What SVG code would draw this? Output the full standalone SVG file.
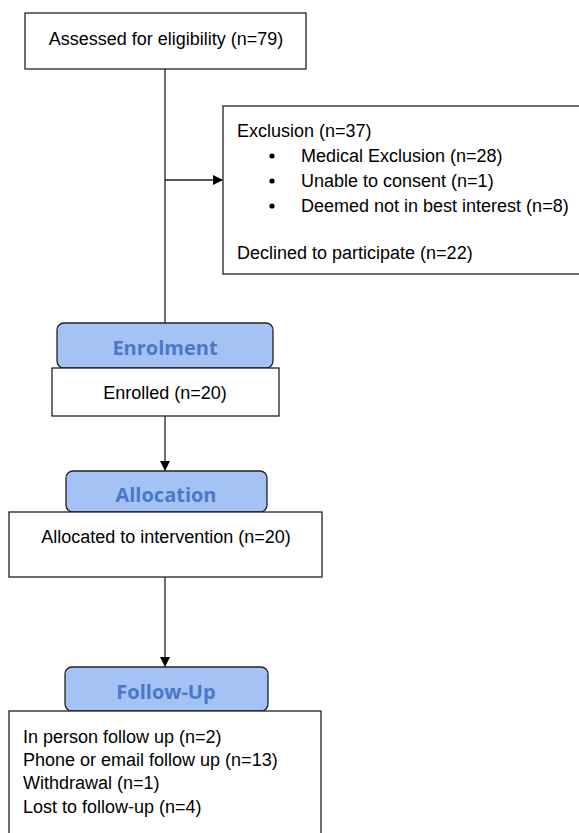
<svg xmlns="http://www.w3.org/2000/svg" width="579" height="833" viewBox="0 0 579 833">
<defs>
<style>
.box{fill:#fff;stroke:#222;stroke-width:1.3}
.hdr{fill:#a4c2f4;stroke:#222;stroke-width:1.3}
.t{font-family:"Liberation Sans",Arial,sans-serif;font-size:18px;fill:#000}
.h{font-family:"Open Sans","Noto Sans",sans-serif;font-size:20px;font-weight:bold;fill:#4a78c8;text-anchor:middle}
.ln{stroke:#222;stroke-width:1.3;fill:none}
</style>
<marker id="arr" markerWidth="10" markerHeight="10" refX="9" refY="5" orient="auto" markerUnits="userSpaceOnUse">
<path d="M0,0 L10,5 L0,10 Z" fill="#000"/>
</marker>
</defs>
<rect width="579" height="833" fill="#fff"/>
<g id="connectors">
<line class="ln" x1="165" y1="69" x2="165" y2="323"/>
<line class="ln" x1="165" y1="180" x2="222" y2="180" marker-end="url(#arr)"/>
<line class="ln" x1="165" y1="416" x2="165" y2="470" marker-end="url(#arr)"/>
<line class="ln" x1="165" y1="577" x2="165" y2="666" marker-end="url(#arr)"/>
</g>
<g id="assessed">
<rect class="box" x="25" y="13" width="281" height="56"/>
<text class="t" x="166" y="44.5" text-anchor="middle">Assessed for eligibility (n=79)</text>
</g>
<g id="exclusion">
<rect class="box" x="223" y="106" width="370" height="168"/>
<text class="t" x="237" y="136.5">Exclusion (n=37)</text>
<circle cx="272" cy="156" r="2.6" fill="#000"/>
<text class="t" x="301" y="161.5">Medical Exclusion (n=28)</text>
<circle cx="272" cy="181" r="2.6" fill="#000"/>
<text class="t" x="301" y="186.5">Unable to consent (n=1)</text>
<circle cx="272" cy="206" r="2.6" fill="#000"/>
<text class="t" x="301" y="211.5">Deemed not in best interest (n=8)</text>
<text class="t" x="237" y="258.5">Declined to participate (n=22)</text>
</g>
<g id="enrolment">
<rect class="hdr" x="57" y="323" width="216" height="45" rx="7"/>
<text class="h" x="165" y="355">Enrolment</text>
</g>
<g id="enrolled">
<rect class="box" x="52" y="368" width="227" height="48"/>
<text class="t" x="165" y="398.5" text-anchor="middle">Enrolled (n=20)</text>
</g>
<g id="allocation">
<rect class="hdr" x="66" y="471" width="201" height="41" rx="7"/>
<text class="h" x="166" y="502">Allocation</text>
</g>
<g id="allocated">
<rect class="box" x="9" y="512" width="313" height="65"/>
<text class="t" x="166" y="542.5" text-anchor="middle">Allocated to intervention (n=20)</text>
</g>
<g id="followup">
<rect class="hdr" x="65" y="667" width="203" height="44" rx="7"/>
<text class="h" x="166" y="699">Follow-Up</text>
</g>
<g id="followup-detail">
<rect class="box" x="9" y="711" width="312" height="140"/>
<text class="t" x="23" y="743">In person follow up (n=2)</text>
<text class="t" x="23" y="766">Phone or email follow up (n=13)</text>
<text class="t" x="23" y="789">Withdrawal (n=1)</text>
<text class="t" x="23" y="813">Lost to follow-up (n=4)</text>
</g>
</svg>
